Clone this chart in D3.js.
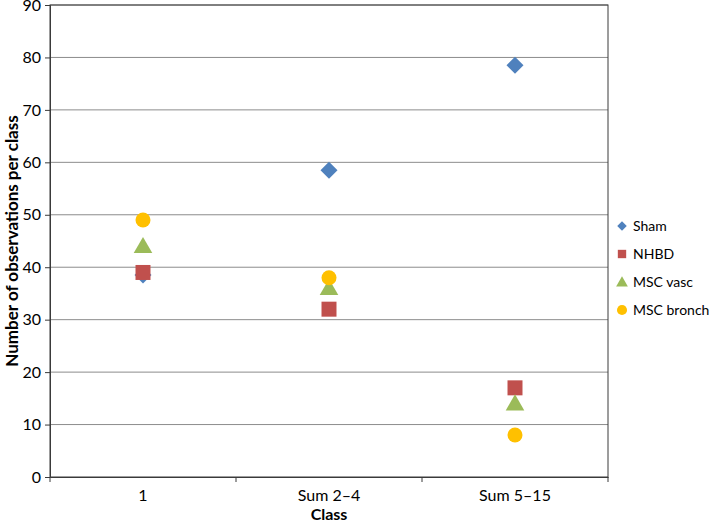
<!DOCTYPE html>
<html><head><meta charset="utf-8">
<script src="https://cdn.jsdelivr.net/npm/d3@7"></script>
<style>body{margin:0;background:#fff}svg{display:block}text{font-family:Lato,"Open Sans",sans-serif;fill:#000}</style>
</head><body><svg id="c" width="709" height="525"></svg>
<script>
const categories = ["1", "Sum 2\u20134", "Sum 5\u201315"];
const sham = [38.5, 58.5, 78.5];
const nhbd = [39, 32, 17];
const mscVasc = [44, 36, 14];
const mscBronch = [49, 38, 8];
const yTicks = [0,10,20,30,40,50,60,70,80,90];
const seriesNames = ["Sham", "NHBD", "MSC vasc", "MSC bronch"];
const seriesColors = ["#4F81BD", "#C0504D", "#9BBB59", "#FFC000"];
const seriesShapes = [d3.symbolSquare, d3.symbolSquare, d3.symbolTriangle, d3.symbolCircle];
const seriesRot = [45, 0, 0, 0];
const seriesValues = [sham, nhbd, mscVasc, mscBronch];

const svg = d3.select("#c");
const L = 50, R = 608, T = 5, B = 477;
const x = d3.scaleBand().domain(categories).range([L, R]);
const y = d3.scaleLinear().domain([0, 90]).range([B, T]);

svg.append("g").selectAll("line").data(yTicks.slice(1)).join("line")
  .attr("x1", L).attr("x2", R).attr("y1", d => y(d)).attr("y2", d => y(d))
  .attr("stroke", "#8c8c8c").attr("stroke-width", 1);

svg.append("rect").attr("x", L).attr("y", T).attr("width", R - L).attr("height", B - T)
  .attr("fill", "none").attr("stroke", "#3a3a3a").attr("stroke-width", 1);

const ya = svg.append("g").attr("transform", `translate(${L},0)`)
  .call(d3.axisLeft(y).tickValues(yTicks).tickSize(5).tickPadding(4));
ya.select(".domain").attr("stroke", "#3a3a3a");
ya.selectAll(".tick line").attr("stroke", "#3a3a3a");
ya.selectAll(".tick text").attr("font-size", 16).attr("font-family", "Lato, sans-serif").attr("fill", "#000");

const xa = svg.append("g").attr("transform", `translate(0,${B})`)
  .call(d3.axisBottom(x).tickSize(0).tickPadding(13));
xa.select(".domain").attr("stroke", "#3a3a3a");
xa.selectAll(".tick text").attr("font-size", 16).attr("font-family", "Lato, sans-serif").attr("fill", "#000");
const bounds = categories.map(c => x(c)).concat([x(categories[categories.length-1]) + x.bandwidth()]);
svg.append("g").selectAll("line").data(bounds).join("line")
  .attr("x1", d => d).attr("x2", d => d).attr("y1", B).attr("y2", B + 5)
  .attr("stroke", "#3a3a3a");

const sizes = [144, 225, 150, 177];
seriesValues.forEach((vals, si) => {
  svg.append("g").selectAll("path").data(vals).join("path")
    .attr("d", d3.symbol().type(seriesShapes[si]).size(sizes[si]))
    .attr("transform", (d, i) => `translate(${x(categories[i]) + x.bandwidth()/2},${y(d) + (si===2?1.5:0)}) rotate(${seriesRot[si]})`)
    .attr("fill", seriesColors[si]);
});

const legY = [226, 254, 282, 310];
const leg = svg.append("g");
const legSizes = [45, 70, 60, 80];
seriesNames.forEach((n, i) => {
  leg.append("path").attr("d", d3.symbol().type(seriesShapes[i]).size(legSizes[i]))
    .attr("transform", `translate(622,${legY[i] + (i===2?1:0)}) rotate(${seriesRot[i]})`).attr("fill", seriesColors[i]);
  leg.append("text").attr("x", 633).attr("y", legY[i]).attr("dy", "0.35em")
    .attr("font-size", 14).text(n);
});

svg.append("text").attr("x", 329).attr("y", 520).attr("text-anchor", "middle")
  .attr("font-size", 16).attr("font-weight", "bold").text("Class");
svg.append("text").attr("transform", `translate(12,${(T+B)/2}) rotate(-90)`)
  .attr("text-anchor", "middle").attr("dy", "0.35em")
  .attr("font-size", 17).attr("font-weight", "bold").text("Number of observations per class");
</script></body></html>
